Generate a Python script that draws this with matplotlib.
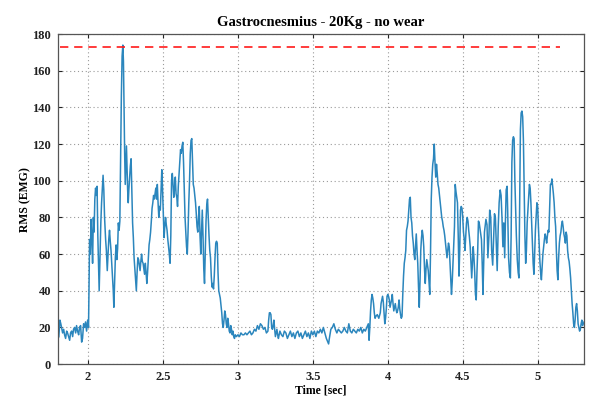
import numpy as np
import matplotlib
matplotlib.use("Agg")
import matplotlib.pyplot as plt

# RMS (EMG) samples, as (time [sec], rms) pairs
rest_start = [
    (1.800, 14), (1.805, 15), (1.812, 24), (1.818, 22), (1.825, 19), (1.830, 17),
    (1.837, 19), (1.843, 16), (1.850, 14), (1.857, 18), (1.863, 17), (1.870, 15),
    (1.877, 13), (1.883, 17), (1.890, 18), (1.897, 15), (1.903, 19), (1.910, 20),
    (1.917, 17), (1.923, 21), (1.930, 18), (1.937, 16), (1.943, 20), (1.950, 21),
    (1.957, 12), (1.963, 14), (1.970, 22), (1.977, 20), (1.983, 23), (1.990, 18),
    (1.997, 24), (2.003, 20),
]

burst_1 = [
    (2.007, 45), (2.010, 68), (2.015, 60), (2.020, 79), (2.025, 70), (2.030, 55),
    (2.035, 80), (2.040, 72), (2.045, 90), (2.050, 96), (2.055, 92), (2.060, 97),
    (2.065, 70), (2.070, 52), (2.074, 40), (2.080, 60), (2.085, 77), (2.090, 88),
    (2.095, 95), (2.100, 103), (2.105, 95), (2.110, 80), (2.117, 68), (2.122, 62),
    (2.128, 51), (2.133, 60), (2.138, 68), (2.143, 73), (2.148, 67), (2.153, 62),
    (2.158, 55), (2.163, 47), (2.168, 40), (2.172, 31), (2.177, 45), (2.182, 58),
    (2.187, 65), (2.192, 57), (2.197, 63), (2.202, 77), (2.207, 73), (2.212, 78),
    (2.217, 110), (2.222, 146), (2.227, 168), (2.232, 174), (2.236, 165), (2.240, 140),
    (2.244, 115), (2.248, 98), (2.252, 108), (2.256, 119), (2.260, 106), (2.264, 95),
    (2.268, 88), (2.272, 95), (2.277, 102), (2.282, 108), (2.287, 112), (2.292, 95),
    (2.297, 77), (2.302, 69), (2.307, 58), (2.312, 52), (2.317, 46), (2.322, 40),
    (2.327, 50), (2.332, 58), (2.337, 57), (2.342, 54), (2.347, 51), (2.352, 56),
    (2.357, 60), (2.362, 56), (2.367, 55), (2.372, 52), (2.377, 49), (2.382, 55),
    (2.387, 50), (2.392, 44), (2.397, 50), (2.402, 58), (2.407, 65), (2.412, 68),
    (2.417, 72), (2.422, 78), (2.427, 85), (2.432, 88), (2.437, 92), (2.442, 90),
    (2.447, 93), (2.452, 96), (2.457, 90), (2.462, 98), (2.467, 88), (2.472, 80),
    (2.477, 86), (2.482, 84), (2.487, 95), (2.492, 106), (2.497, 95), (2.502, 82),
    (2.507, 69), (2.512, 75), (2.517, 80), (2.522, 76), (2.527, 73), (2.532, 68),
    (2.537, 64), (2.542, 60), (2.547, 55), (2.552, 70), (2.557, 100), (2.562, 104),
    (2.567, 98), (2.572, 91), (2.577, 96), (2.582, 102), (2.587, 93), (2.592, 91),
    (2.597, 86), (2.602, 97), (2.607, 104), (2.612, 110), (2.617, 117), (2.622, 115),
    (2.627, 119), (2.632, 121), (2.637, 110), (2.642, 95), (2.647, 80), (2.652, 72),
    (2.657, 64), (2.662, 60), (2.667, 72), (2.672, 88), (2.677, 100), (2.682, 115),
    (2.687, 122), (2.692, 123), (2.697, 110), (2.702, 98), (2.707, 96), (2.712, 92),
    (2.717, 88), (2.722, 82), (2.727, 75), (2.732, 72), (2.737, 80), (2.742, 86),
    (2.747, 70), (2.752, 60), (2.757, 72), (2.762, 84), (2.767, 70), (2.772, 52),
    (2.777, 44), (2.782, 62), (2.787, 78), (2.792, 87), (2.797, 90), (2.802, 80),
    (2.807, 70), (2.812, 62), (2.817, 58), (2.822, 48), (2.827, 42), (2.832, 44),
    (2.837, 41), (2.842, 48), (2.847, 58), (2.852, 66), (2.857, 67), (2.862, 66),
    (2.867, 50), (2.872, 40), (2.877, 38), (2.882, 36), (2.887, 32), (2.892, 28),
    (2.897, 22), (2.902, 20), (2.907, 24), (2.912, 29), (2.917, 27), (2.922, 22),
    (2.927, 20), (2.932, 25), (2.937, 22), (2.942, 18), (2.947, 17), (2.952, 21),
    (2.957, 19), (2.962, 16), (2.967, 18), (2.972, 15), (2.977, 14), (2.982, 16),
]

rest_middle = [
    (2.990, 15), (3.000, 16), (3.010, 15), (3.020, 17), (3.030, 16), (3.040, 16),
    (3.050, 17), (3.060, 16), (3.070, 17), (3.080, 18), (3.090, 16), (3.100, 17),
    (3.110, 19), (3.120, 18), (3.130, 21), (3.140, 19), (3.150, 22), (3.160, 21),
    (3.170, 19), (3.180, 20), (3.190, 17), (3.200, 18), (3.205, 24), (3.210, 28),
    (3.215, 28), (3.220, 27), (3.225, 20), (3.230, 19), (3.235, 21), (3.240, 24),
    (3.245, 19), (3.250, 15), (3.255, 17), (3.260, 19), (3.265, 16), (3.270, 14),
    (3.280, 18), (3.290, 16), (3.300, 15), (3.310, 18), (3.320, 17), (3.330, 14),
    (3.340, 16), (3.350, 18), (3.360, 15), (3.370, 17), (3.380, 14), (3.390, 17),
    (3.400, 18), (3.410, 15), (3.420, 17), (3.430, 14), (3.440, 16), (3.450, 18),
    (3.460, 15), (3.470, 17), (3.480, 14), (3.490, 18), (3.500, 16), (3.510, 18),
    (3.520, 15), (3.530, 18), (3.540, 17), (3.550, 19), (3.560, 17), (3.570, 20),
    (3.580, 17), (3.590, 14), (3.600, 12), (3.605, 11), (3.610, 14), (3.620, 19),
    (3.630, 20), (3.640, 22), (3.650, 19), (3.660, 17), (3.670, 19), (3.680, 18),
    (3.690, 17), (3.700, 18), (3.710, 20), (3.720, 18), (3.730, 17), (3.740, 22),
    (3.750, 18), (3.760, 17), (3.770, 19), (3.780, 18), (3.790, 17), (3.800, 19),
    (3.810, 18), (3.820, 20), (3.830, 17), (3.840, 19), (3.850, 18), (3.860, 20),
    (3.870, 22), (3.875, 13), (3.880, 20), (3.885, 29), (3.890, 35), (3.895, 38),
    (3.900, 36), (3.905, 33), (3.910, 28), (3.915, 25), (3.920, 26), (3.930, 27),
    (3.940, 25), (3.950, 28), (3.955, 33), (3.960, 35), (3.965, 37), (3.970, 34),
    (3.975, 28), (3.980, 22), (3.985, 25), (3.990, 30), (3.995, 37), (4.000, 38),
    (4.005, 37), (4.010, 35), (4.015, 31), (4.020, 33), (4.025, 35), (4.030, 38),
    (4.035, 33), (4.040, 29), (4.045, 31), (4.050, 33), (4.055, 30), (4.060, 28),
    (4.065, 29), (4.070, 31), (4.075, 35), (4.080, 30), (4.085, 27), (4.090, 25),
    (4.095, 26),
]

burst_2 = [
    (4.100, 38), (4.105, 48), (4.110, 55), (4.115, 58), (4.120, 62), (4.125, 73),
    (4.130, 75), (4.135, 78), (4.140, 84), (4.145, 90), (4.150, 91), (4.155, 80),
    (4.160, 77), (4.165, 70), (4.170, 66), (4.175, 60), (4.180, 57), (4.185, 64),
    (4.190, 71), (4.195, 62), (4.200, 55), (4.205, 42), (4.210, 31), (4.215, 45),
    (4.220, 62), (4.225, 69), (4.230, 73), (4.235, 70), (4.240, 64), (4.245, 52),
    (4.250, 44), (4.255, 52), (4.260, 57), (4.265, 54), (4.270, 51), (4.275, 45),
    (4.280, 38), (4.285, 60), (4.290, 90), (4.295, 102), (4.300, 109), (4.305, 112),
    (4.310, 120), (4.315, 110), (4.320, 102), (4.325, 109), (4.330, 104), (4.335, 98),
    (4.340, 96), (4.345, 92), (4.350, 88), (4.355, 84), (4.360, 80), (4.365, 78),
    (4.370, 75), (4.375, 73), (4.380, 70), (4.385, 66), (4.390, 62), (4.395, 58),
    (4.400, 62), (4.405, 66), (4.410, 64), (4.415, 55), (4.420, 46), (4.425, 38),
    (4.430, 45), (4.435, 55), (4.440, 64), (4.445, 75), (4.450, 98), (4.455, 94),
    (4.460, 91), (4.465, 88), (4.470, 70), (4.475, 48), (4.480, 62), (4.485, 84),
    (4.490, 86), (4.495, 85), (4.500, 80), (4.505, 72), (4.510, 68), (4.515, 62),
    (4.520, 70), (4.525, 77), (4.530, 80), (4.535, 78), (4.540, 73), (4.545, 69),
    (4.550, 64), (4.555, 55), (4.560, 47), (4.565, 55), (4.570, 64), (4.575, 58),
    (4.580, 50), (4.585, 38), (4.590, 35), (4.595, 50), (4.600, 62), (4.605, 78),
    (4.610, 77), (4.615, 74), (4.620, 71), (4.625, 68), (4.630, 55), (4.635, 38),
    (4.645, 72), (4.655, 79), (4.662, 76), (4.668, 58), (4.675, 70), (4.680, 84),
    (4.687, 80), (4.693, 62), (4.700, 54), (4.705, 66), (4.712, 82), (4.718, 80),
    (4.724, 66), (4.730, 51), (4.737, 75), (4.743, 88), (4.750, 95), (4.756, 92),
    (4.762, 80), (4.768, 64), (4.774, 77), (4.780, 58), (4.785, 78), (4.790, 95),
    (4.796, 97), (4.800, 84), (4.806, 58), (4.812, 50), (4.818, 47), (4.823, 70),
    (4.828, 110), (4.833, 122), (4.838, 124), (4.843, 123), (4.848, 100), (4.853, 84),
    (4.858, 70), (4.864, 57), (4.870, 50), (4.875, 47), (4.880, 90), (4.885, 128),
    (4.890, 137), (4.895, 138), (4.900, 135), (4.905, 122), (4.910, 95), (4.915, 70),
    (4.920, 55), (4.925, 62), (4.930, 77), (4.935, 84), (4.940, 92), (4.945, 98),
    (4.950, 96), (4.955, 88), (4.960, 77), (4.965, 65), (4.970, 55), (4.975, 49),
    (4.980, 60), (4.985, 73), (4.990, 80), (4.995, 88), (5.000, 86), (5.005, 75),
    (5.010, 66), (5.015, 56), (5.020, 50), (5.025, 46), (5.030, 53), (5.035, 60),
    (5.040, 64), (5.045, 68), (5.050, 71), (5.055, 69), (5.060, 66), (5.065, 70),
    (5.070, 73), (5.075, 72), (5.080, 85), (5.085, 98), (5.090, 98), (5.095, 101),
    (5.100, 97), (5.105, 93), (5.110, 88), (5.115, 80), (5.120, 75), (5.125, 62),
    (5.130, 51), (5.135, 46), (5.140, 58), (5.145, 66), (5.150, 70), (5.155, 72),
    (5.160, 76), (5.165, 78), (5.170, 75), (5.175, 71), (5.180, 69), (5.185, 66),
    (5.190, 72), (5.195, 70), (5.200, 62), (5.205, 58), (5.210, 56), (5.215, 52),
    (5.220, 47), (5.225, 40), (5.230, 33), (5.235, 28), (5.240, 22), (5.245, 20),
    (5.250, 24), (5.255, 31), (5.260, 33), (5.265, 29), (5.270, 22), (5.275, 20),
    (5.280, 18), (5.285, 19), (5.290, 22), (5.295, 24), (5.300, 21), (5.310, 23),
]

# max reference level (red dashed line)
threshold = 173
threshold_start = 1.81
threshold_end = 5.15

x_ticks = [2, 2.5, 3, 3.5, 4, 4.5, 5]
x_tick_labels = ['2', '2.5', '3', '3.5', '4', '4.5', '5']
y_ticks = [0, 20, 40, 60, 80, 100, 120, 140, 160, 180]

samples = rest_start + burst_1 + rest_middle + burst_2
time = np.array([s[0] for s in samples])
rms = np.array([s[1] for s in samples])

plt.rcParams['font.family'] = ['Liberation Serif', 'DejaVu Serif']
plt.rcParams['font.weight'] = 'bold'

fig = plt.figure(figsize=(5.93, 4.01), dpi=100)
ax = fig.add_axes([0.098, 0.092, 0.887, 0.823])

ax.plot(time, rms, color='#2b86bd', linewidth=1.1)
ax.plot([threshold_start, threshold_end], [threshold, threshold],
        color='#ff1a1a', linewidth=1.2, dashes=(5, 3.5))

ax.set_xlim(1.8, 5.31)
ax.set_ylim(0, 180)
ax.set_xticks(x_ticks)
ax.set_xticklabels(x_tick_labels)
ax.set_yticks(y_ticks)

ax.grid(True, color='#9a9a9a', linestyle=(0, (1, 2.5)), linewidth=0.8)
ax.tick_params(direction='in', top=True, right=True, length=3,
               labelsize=9, colors='#222222', pad=5)
for spine in ax.spines.values():
    spine.set_color('#555555')
    spine.set_linewidth(0.9)

ax.set_title('Gastrocnesmius - 20Kg - no wear', fontsize=10.5, fontweight='bold', pad=6)
ax.set_xlabel('Time [sec]', fontsize=8.5, fontweight='bold', labelpad=1)
ax.set_ylabel('RMS (EMG)', fontsize=8.5, fontweight='bold', labelpad=1)

plt.savefig('out.png', dpi=100)
